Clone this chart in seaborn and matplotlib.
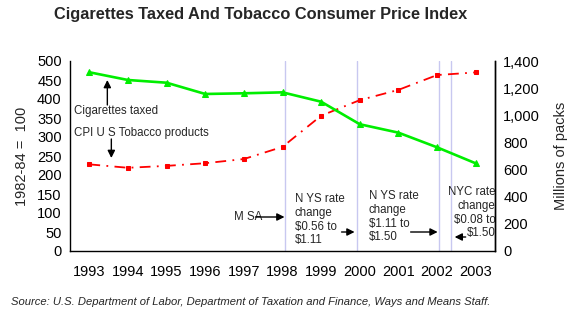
import matplotlib
matplotlib.use("Agg")
import matplotlib.pyplot as plt
from matplotlib import font_manager
import seaborn as sns
import pandas as pd

years = [1993, 1994, 1995, 1996, 1997, 1998, 1999, 2000, 2001, 2002, 2003]
cigarettes_taxed = [1317, 1260, 1240, 1157, 1162, 1169, 1100, 934, 872, 764, 646]
cpi_tobacco = [228, 219, 224, 231, 242, 274, 356, 397, 424, 463, 470]
left_ticks = [0, 50, 100, 150, 200, 250, 300, 350, 400, 450, 500]
right_ticks = [0, 200, 400, 600, 800, 1000, 1200, 1400]
event_lines = [5.07, 6.93, 9.05, 9.37]

sns.set_theme(style="white")
plt.rcParams['font.family'] = ['Liberation Sans', 'DejaVu Sans']
names = {f.name for f in font_manager.fontManager.ttflist}
title_font = 'Liberation Sans Narrow' if 'Liberation Sans Narrow' in names else 'Liberation Sans'

df = pd.DataFrame({"idx": range(len(years)), "year": years,
                   "taxed": cigarettes_taxed, "cpi": cpi_tobacco})

W, H = 583, 327
fig = plt.figure(figsize=(W / 100, H / 100), dpi=100)
L, R, B, T = 70, 495, 251, 61
ax = fig.add_axes([L / W, 1 - B / H, (R - L) / W, (B - T) / H])
ax2 = ax.twinx()

for xv in event_lines:
    ax.axvline(xv, color='#c8c8f0', lw=1, zorder=0)

sns.lineplot(data=df, x="idx", y="cpi", ax=ax, color='#ff0000', lw=1.3,
             linestyle=(0, (6, 3.5, 1, 3.5)), marker='s', markersize=3.5,
             markeredgecolor='#ff0000', zorder=3)
sns.lineplot(data=df, x="idx", y="taxed", ax=ax2, color='#00ee00', lw=1.9,
             marker='^', markersize=5, markeredgecolor='#00ee00', zorder=3)

ax.set_xlim(-0.5, len(years) - 0.5)
ax.set_ylim(0, 500)
ax2.set_ylim(0, 1400)
ax.set_yticks(left_ticks)
ax2.set_yticks(right_ticks)
ax2.set_yticklabels([f"{v:,}" for v in right_ticks])
ax.set_xticks(range(len(years)))
ax.set_xticklabels([str(y) for y in years])
ax.set_xticks([i - 0.5 for i in range(len(years) + 1)], minor=True)
ax.tick_params(axis='x', which='major', length=0, labelsize=10.5, pad=10, colors='black')
ax.tick_params(axis='x', which='minor', length=5, width=1, color='black', direction='out')
ax.tick_params(axis='y', length=0, labelsize=10.5, pad=6, colors='black')
ax2.tick_params(axis='y', length=0, labelsize=10.5, pad=6, colors='black')

ax.set_xlabel("")
ax.set_ylabel("1982-84 =  100", fontsize=10.5, labelpad=6)
ax2.set_ylabel("Millions of packs", fontsize=10.5, labelpad=10)

for a in (ax, ax2):
    for s in ('left', 'right', 'bottom'):
        a.spines[s].set_visible(True)
        a.spines[s].set_color('black')
        a.spines[s].set_linewidth(1)
    a.spines['top'].set_visible(False)
ax2.spines['left'].set_visible(False)
ax2.spines['bottom'].set_visible(False)
ax2.grid(False)
ax.grid(False)

def dx(px):
    return (px - 90) / 38.6

def dy(py):
    return (B - py) / 0.38

fs = 8.3
arrow = dict(arrowstyle='-|>', color='black', lw=1, mutation_scale=11, shrinkA=0, shrinkB=0)
ax.text(dx(75), dy(111), "Cigarettes taxed", fontsize=fs, va='center', ha='left')
ax.annotate("", xy=(dx(108), dy(80)), xytext=(dx(108), dy(105)), arrowprops=arrow)
ax.text(dx(75), dy(133), "CPI U S Tobacco products", fontsize=fs, va='center', ha='left')
ax.annotate("", xy=(dx(112), dy(158)), xytext=(dx(112), dy(139)), arrowprops=arrow)
ax.text(dx(235), dy(217), "M SA", fontsize=fs, va='center', ha='left')
ax.annotate("", xy=(dx(285), dy(217)), xytext=(dx(256), dy(217)), arrowprops=arrow)
ax.text(dx(295), dy(193), "N YS rate\nchange\n$0.56 to\n$1.11", fontsize=fs,
        va='top', ha='left', linespacing=1.2)
ax.annotate("", xy=(dx(355), dy(232)), xytext=(dx(342), dy(232)), arrowprops=arrow)
ax.text(dx(369), dy(190), "N YS rate\nchange\n$1.11 to\n$1.50", fontsize=fs,
        va='top', ha='left', linespacing=1.2)
ax.annotate("", xy=(dx(438), dy(232)), xytext=(dx(411), dy(232)), arrowprops=arrow)
ax.text(dx(496), dy(186), "NYC rate\nchange\n$0.08 to\n$1.50", fontsize=fs,
        va='top', ha='right', linespacing=1.2, clip_on=False)
ax.annotate("", xy=(dx(455), dy(237)), xytext=(dx(466), dy(237)), arrowprops=arrow)

fig.text(261 / W, 1 - 15 / H, "Cigarettes Taxed And Tobacco Consumer Price Index",
         ha='center', va='center', fontsize=11.8, fontweight='bold', family=title_font)
fig.text(11 / W, 1 - 302 / H,
         "Source: U.S. Department of Labor, Department of Taxation and Finance, Ways and Means Staff.",
         ha='left', va='center', fontsize=8.1, style='italic')

fig.savefig("out.png", dpi=100)
